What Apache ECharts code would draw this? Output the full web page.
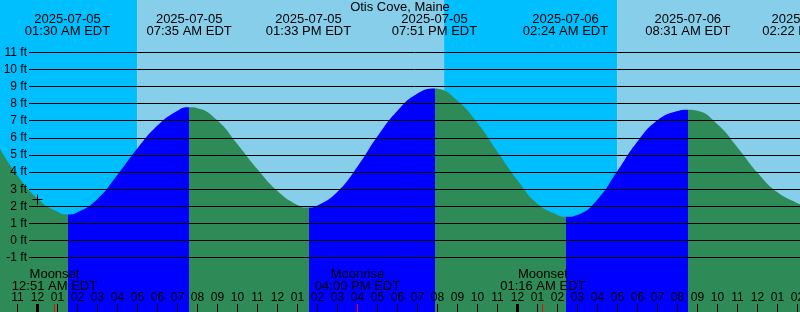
<!DOCTYPE html>
<html><head><meta charset="utf-8">
<script src="https://cdn.jsdelivr.net/npm/echarts@6/dist/echarts.min.js"></script>
<style>html,body{margin:0;padding:0;background:#fff}#c{width:800px;height:312px}</style>
</head><body><div id="c"></div>
<script>
// ---------- data (hours relative to 2025-07-05 00:00 EDT) ----------
const chartTitle = 'Otis Cove, Maine';
const tideHours = [-1.875,-1,0,1,1.5,2,3,4,5,6,7,7.583,8,9,10,11,12,13,13.55,14,15,16,17,18,19,19.85,20,21,22,23,24,25,26,26.4,27,28,29,30,31,32,32.517,33,34,35,36,37,38,38.125];
const tideFeet  = [5.37,3.8,2.45,1.68,1.52,1.65,2.43,3.85,5.4,6.73,7.6,7.8,7.75,7.03,5.64,4.17,2.9,2.08,1.93,2.05,2.85,4.33,6.1,7.6,8.6,8.9,8.89,8.18,6.88,5.2,3.53,2.15,1.5,1.39,1.5,2.4,4.08,5.8,7.04,7.58,7.66,7.6,6.8,5.45,3.97,2.82,2.18,2.13];
const extremeTimes = [1.5, 7.583, 13.55, 19.85, 26.4, 32.517, 38.367];
const extremeTypes = ['L','H','L','H','L','H','L'];
const extremeDates = ['2025-07-05','2025-07-05','2025-07-05','2025-07-05','2025-07-06','2025-07-06','2025-07-06'];
const extremeClock = ['01:30 AM EDT','07:35 AM EDT','01:33 PM EDT','07:51 PM EDT','02:24 AM EDT','08:31 AM EDT','02:22 PM EDT'];
const moonTimes = [0.85, 16.0, 25.267];
const moonNames = ['Moonset','Moonrise','Moonset'];
const moonClock = ['12:51 AM EDT','04:00 PM EDT','01:16 AM EDT'];
const dayBands = [[-1.875, 4.98, 'night'], [4.98, 20.33, 'day'], [20.33, 28.98, 'night'], [28.98, 38.125, 'day']];
const midnightHours = [0, 24];
const nowHour = 0, nowFeet = 2.4;
const yTicks = [-1,0,1,2,3,4,5,6,7,8,9,10,11];
const hourTicks = [-1,0,1,2,3,4,5,6,7,8,9,10,11,12,13,14,15,16,17,18,19,20,21,22,23,24,25,26,27,28,29,30,31,32,33,34,35,36,37,38];

// ---------- style ----------
const FONT = '"Liberation Sans", Arial, sans-serif';
const RISE = '#0000FF', FALL = '#2E8B57', NIGHT = '#00BFFF', DAY = '#87CEEB';
const xMin = -1.875, xMax = 38.125;
const yMin = -4.186, yMax = 14.081;

const pieces = [];
let prev = null;
extremeTimes.forEach((t, i) => {
  const p = { color: extremeTypes[i] === 'L' ? FALL : RISE, lt: t };
  if (prev !== null) p.gte = prev;
  pieces.push(p); prev = t;
});
pieces.push({ gte: prev, color: extremeTypes[extremeTypes.length - 1] === 'L' ? RISE : FALL });

function hourFmt(v) { let h = ((Math.round(v) % 12) + 12) % 12; if (h === 0) h = 12; return String(h).padStart(2, '0'); }
function txt(x, y, s, size) {
  return { type: 'text', x: x, y: y, style: { text: s, fill: '#000', font: size + 'px ' + FONT, align: 'center', verticalAlign: 'middle' } };
}

const chart = echarts.init(document.getElementById('c'), null, { renderer: 'canvas' });
chart.setOption({
  animation: false,
  backgroundColor: '#fff',
  title: { text: chartTitle, left: 'center', top: 1, padding: 0, textStyle: { fontSize: 13, fontWeight: 'normal', color: '#000', fontFamily: FONT } },
  grid: { left: 0, right: 0, top: 0, bottom: 0, containLabel: false, outerBoundsMode: 'none' },
  xAxis: {
    type: 'value', min: xMin, max: xMax, position: 'bottom', z: 10,
    axisLine: { show: false, onZero: false }, splitLine: { show: false },
    axisTick: { show: true, inside: true, length: 8, lineStyle: { color: '#000', width: 1 }, customValues: hourTicks },
    axisLabel: { show: true, inside: true, margin: 8, color: '#000', fontSize: 12, fontFamily: FONT, customValues: hourTicks, formatter: hourFmt, hideOverlap: false, alignMinLabel: 'center', alignMaxLabel: 'center' }
  },
  yAxis: {
    type: 'value', min: yMin, max: yMax, z: 10,
    axisLine: { show: false, onZero: false }, splitLine: { show: false }, axisTick: { show: false },
    axisLabel: { inside: true, align: 'right', margin: 27, color: '#000', fontSize: 12, fontFamily: FONT, customValues: yTicks, formatter: v => v + ' ft' }
  },
  visualMap: { type: 'piecewise', show: false, dimension: 0, seriesIndex: 1, pieces: pieces },
  series: [
    { // day / night bands
      type: 'custom', z: 1, clip: true, silent: true,
      data: dayBands.map(b => [b[0], b[1], b[2] === 'day' ? 1 : 0]),
      renderItem: (params, api) => {
        const a = api.coord([api.value(0), 0]), b = api.coord([api.value(1), 0]);
        const cs = params.coordSys;
        return { type: 'rect', shape: { x: a[0], y: cs.y, width: b[0] - a[0], height: cs.height }, style: { fill: api.value(2) ? DAY : NIGHT } };
      }
    },
    { // tide
      type: 'line', z: 2, smooth: 0.5, symbol: 'none', silent: true,
      data: tideHours.map((h, i) => [h, tideFeet[i]]),
      lineStyle: { width: 0 },
      areaStyle: { origin: 'start', opacity: 1 }
    },
    { // gridlines
      type: 'custom', z: 3, silent: true,
      data: yTicks.map(v => [xMin, v]),
      renderItem: (params, api) => {
        const p = api.coord([api.value(0), api.value(1)]);
        const cs = params.coordSys;
        const y = Math.floor(p[1]) + 0.5;
        return { type: 'line', shape: { x1: cs.x + 29, y1: y, x2: cs.x + cs.width, y2: y }, style: { stroke: '#000', lineWidth: 1 } };
      }
    },
    { // current marker
      type: 'custom', z: 4, silent: true,
      data: [[nowHour, nowFeet]],
      renderItem: (params, api) => {
        const p = api.coord([api.value(0), api.value(1)]);
        const x = Math.floor(p[0]) + 0.5, y = Math.floor(p[1]) + 0.5;
        return { type: 'group', children: [
          { type: 'line', shape: { x1: x - 5, y1: y, x2: x + 5, y2: y }, style: { stroke: '#000', lineWidth: 1 } },
          { type: 'line', shape: { x1: x, y1: y - 5, x2: x, y2: y + 5 }, style: { stroke: '#000', lineWidth: 1 } }
        ] };
      }
    },
    { // extreme labels at top
      type: 'custom', z: 5, clip: false, silent: true,
      data: extremeTimes.map((t, i) => [t, i]),
      renderItem: (params, api) => {
        const p = api.coord([api.value(0), 0]);
        const i = params.dataIndex;
        return { type: 'group', children: [ txt(p[0], 19.5, extremeDates[i], 13), txt(p[0], 31.5, extremeClock[i], 13) ] };
      }
    },
    { // moon labels + red ticks
      type: 'custom', z: 11, clip: false, silent: true,
      data: moonTimes.map((t, i) => [t, i]),
      renderItem: (params, api) => {
        const p = api.coord([api.value(0), 0]);
        const cs = params.coordSys;
        const i = params.dataIndex;
        const bottom = cs.y + cs.height;
        return { type: 'group', children: [
          txt(p[0], 274, moonNames[i], 13), txt(p[0], 286, moonClock[i], 13),
          { type: 'rect', shape: { x: Math.floor(p[0]), y: bottom - 8, width: 1, height: 8 }, style: { fill: '#FF0000' } }
        ] };
      }
    },
    { // midnight ticks
      type: 'custom', z: 11, clip: false, silent: true,
      data: midnightHours.map(h => [h, 0]),
      renderItem: (params, api) => {
        const p = api.coord([api.value(0), 0]);
        const cs = params.coordSys;
        const bottom = cs.y + cs.height;
        return { type: 'rect', shape: { x: Math.floor(p[0]) - 1, y: bottom - 8, width: 3, height: 8 }, style: { fill: '#000' } };
      }
    }
  ]
});
</script></body></html>
